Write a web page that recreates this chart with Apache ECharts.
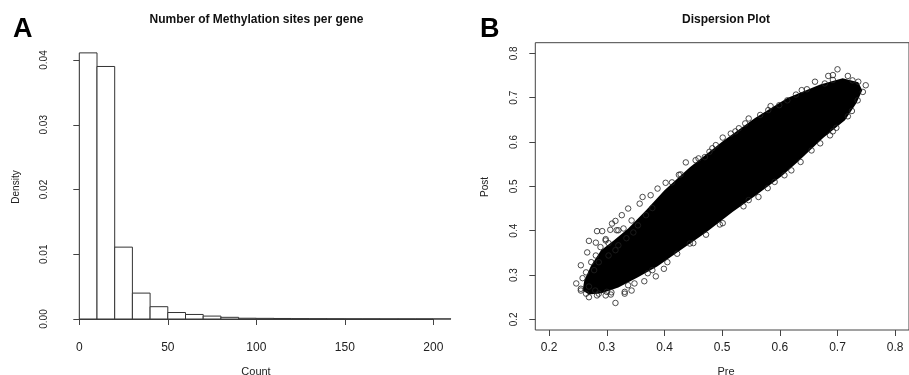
<!DOCTYPE html>
<html>
<head>
<meta charset="utf-8">
<script src="https://cdn.jsdelivr.net/npm/echarts@6/dist/echarts.min.js"></script>
<style>
  html, body { margin: 0; padding: 0; background: #fff; }
  #chart { width: 909px; height: 375px; }
</style>
</head>
<body>
<div id="chart"></div>
<script>
// Panel A: histogram of methylation sites per gene
const binLeft = [0, 10, 20, 30, 40, 50, 60, 70, 80, 90, 100, 110, 120, 130, 140, 150, 160, 170, 180, 190, 200]
const binRight = [10, 20, 30, 40, 50, 60, 70, 80, 90, 100, 110, 120, 130, 140, 150, 160, 170, 180, 190, 200, 210]
const density = [0.0411, 0.0390, 0.0111, 0.0040, 0.0019, 0.0010, 0.0007, 0.00045, 0.00026, 0.00012,
    0.0001, 0.00008, 0.00006, 0.00005, 0.00004, 0.00003, 0.00003, 0.00002, 0.00002, 0.00002, 0.00001]

// Panel B: dispersion plot (Pre vs Post)
const preTicks = [0.2, 0.3, 0.4, 0.5, 0.6, 0.7, 0.8]
const postTicks = [0.2, 0.3, 0.4, 0.5, 0.6, 0.7, 0.8]

// outline of the solid (fully overplotted) core of the cloud
const coreX = [0.258, 0.261, 0.273, 0.290, 0.312, 0.337, 0.368, 0.400, 0.444, 0.501, 0.557, 0.613, 0.670, 0.709, 0.736,
    0.743, 0.733, 0.713, 0.675, 0.630, 0.603, 0.557, 0.518, 0.472, 0.422, 0.388, 0.354, 0.320, 0.291, 0.269]
const coreY = [0.265, 0.288, 0.322, 0.356, 0.378, 0.405, 0.446, 0.491, 0.543, 0.602, 0.654, 0.699, 0.730, 0.744, 0.735,
    0.717, 0.688, 0.649, 0.609, 0.554, 0.523, 0.478, 0.442, 0.396, 0.351, 0.320, 0.295, 0.272, 0.259, 0.256]

// individual points visible around the core
const edgePoints = [
    [0.700, 0.764], [0.692, 0.751], [0.684, 0.749], [0.726, 0.739], [0.736, 0.736], [0.749, 0.728],
    [0.744, 0.713], [0.735, 0.694], [0.725, 0.670], [0.698, 0.632], [0.687, 0.615], [0.670, 0.597],
    [0.636, 0.555], [0.608, 0.525], [0.591, 0.510], [0.563, 0.476], [0.546, 0.469], [0.501, 0.417],
    [0.472, 0.391], [0.444, 0.371], [0.422, 0.348], [0.399, 0.314], [0.385, 0.297], [0.365, 0.286],
    [0.343, 0.265], [0.331, 0.258], [0.315, 0.237], [0.298, 0.254], [0.286, 0.258], [0.269, 0.250],
    [0.264, 0.258], [0.255, 0.265], [0.247, 0.281], [0.255, 0.322], [0.266, 0.351], [0.269, 0.377],
    [0.281, 0.373], [0.283, 0.399], [0.292, 0.399], [0.298, 0.381], [0.306, 0.402], [0.315, 0.422],
    [0.320, 0.401], [0.326, 0.435], [0.337, 0.450], [0.343, 0.423], [0.357, 0.461], [0.362, 0.476],
    [0.376, 0.480], [0.388, 0.495], [0.402, 0.508], [0.437, 0.554], [0.425, 0.526], [0.454, 0.559],
    [0.470, 0.566], [0.478, 0.578], [0.489, 0.593], [0.501, 0.610], [0.515, 0.619], [0.529, 0.631],
    [0.546, 0.653], [0.566, 0.661], [0.580, 0.672], [0.599, 0.683], [0.613, 0.694], [0.628, 0.707],
    [0.647, 0.719], [0.661, 0.736], [0.678, 0.732],
    [0.309, 0.416], [0.255, 0.269], [0.283, 0.254], [0.300, 0.262], [0.331, 0.262], [0.348, 0.281],
    [0.379, 0.311], [0.281, 0.344], [0.289, 0.363], [0.298, 0.378], [0.317, 0.401],
    [0.278, 0.311], [0.286, 0.329], [0.303, 0.344], [0.320, 0.367], [0.334, 0.383], [0.346, 0.396],
    [0.354, 0.412], [0.368, 0.435], [0.379, 0.451], [0.315, 0.356], [0.258, 0.293], [0.269, 0.274],
    [0.280, 0.265], [0.307, 0.256], [0.264, 0.306], [0.329, 0.405], [0.303, 0.372], [0.273, 0.329],
    [0.413, 0.509], [0.428, 0.527], [0.459, 0.563], [0.483, 0.586], [0.523, 0.624], [0.540, 0.642],
    [0.584, 0.681], [0.638, 0.717], [0.692, 0.740], [0.718, 0.749],
    [0.718, 0.658], [0.692, 0.624], [0.655, 0.581], [0.620, 0.536], [0.579, 0.496], [0.537, 0.455],
    [0.496, 0.414], [0.450, 0.372], [0.405, 0.329], [0.371, 0.304], [0.337, 0.277], [0.308, 0.261]
]

const font = "'Liberation Sans', Arial, Helvetica, sans-serif"
const ink = '#222'
const axisGray = '#444'

const chart = echarts.init(document.getElementById('chart'))

const option = {
    animation: false,
    backgroundColor: '#fff',
    grid: [
        { left: 79.3, top: 60, width: 354, height: 259 },
        { left: 535.3, top: 42.7, width: 382.5, height: 287.3, show: true, borderColor: axisGray, borderWidth: 1 },
    ],
    xAxis: [
        {
            gridIndex: 0,
            type: 'value',
            min: 0,
            max: 200,
            interval: 50,
            offset: 11,
            axisLine: { show: true, lineStyle: { color: axisGray, width: 1 } },
            axisTick: { show: true, length: 6, lineStyle: { color: axisGray } },
            axisLabel: { color: ink, fontFamily: font, fontSize: 12, margin: 12 },
            splitLine: { show: false },
        },
        {
            gridIndex: 1,
            type: 'value',
            min: 0.176,
            max: 0.824,
            axisLine: { show: false },
            axisTick: { show: true, length: 6, customValues: preTicks, lineStyle: { color: axisGray } },
            axisLabel: {
                color: ink, fontFamily: font, fontSize: 12, margin: 12,
                customValues: preTicks,
                formatter: (v) => v.toFixed(1),
            },
            splitLine: { show: false },
        },
    ],
    yAxis: [
        {
            gridIndex: 0,
            type: 'value',
            min: 0,
            max: 0.04,
            interval: 0.01,
            offset: 14,
            axisLine: { show: true, lineStyle: { color: axisGray, width: 1 } },
            axisTick: { show: true, length: 6, lineStyle: { color: axisGray } },
            axisLabel: {
                color: ink, fontFamily: font, fontSize: 10, rotate: 90, margin: 16,
                formatter: (v) => v.toFixed(2),
            },
            splitLine: { show: false },
        },
        {
            gridIndex: 1,
            type: 'value',
            min: 0.176,
            max: 0.824,
            axisLine: { show: false },
            axisTick: { show: true, length: 6, customValues: postTicks, lineStyle: { color: axisGray } },
            axisLabel: {
                color: ink, fontFamily: font, fontSize: 10, rotate: 90, margin: 16,
                customValues: postTicks,
                formatter: (v) => v.toFixed(1),
            },
            splitLine: { show: false },
        },
    ],
    series: [
        {
            type: 'custom',
            xAxisIndex: 0,
            yAxisIndex: 0,
            clip: false,
            data: binLeft.map((l, i) => [l, binRight[i], density[i]]),
            renderItem: (params, api) => {
                const p0 = api.coord([api.value(0), 0])
                const p1 = api.coord([api.value(1), api.value(2)])
                return {
                    type: 'rect',
                    shape: { x: p0[0], y: p1[1], width: p1[0] - p0[0], height: p0[1] - p1[1] },
                    style: { fill: '#fff', stroke: '#333', lineWidth: 1 },
                }
            },
        },
        {
            type: 'custom',
            xAxisIndex: 1,
            yAxisIndex: 1,
            data: [[coreX[0], coreY[0]]],
            renderItem: (params, api) => {
                const points = coreX.map((x, i) => api.coord([x, coreY[i]]))
                return { type: 'polygon', shape: { points }, style: { fill: '#000' } }
            },
        },
        {
            type: 'scatter',
            xAxisIndex: 1,
            yAxisIndex: 1,
            data: edgePoints,
            symbol: 'circle',
            symbolSize: 5.5,
            itemStyle: { color: 'rgba(0,0,0,0)', borderColor: '#222', borderWidth: 1 },
            emphasis: { disabled: true },
        },
    ],
    graphic: [
        { type: 'text', x: 13, y: 30, style: { text: 'A', font: `bold 27px ${font}`, fill: '#000', textVerticalAlign: 'middle' } },
        { type: 'text', x: 480, y: 30, style: { text: 'B', font: `bold 27px ${font}`, fill: '#000', textVerticalAlign: 'middle' } },
        { type: 'text', x: 256.5, y: 19.5, style: { text: 'Number of Methylation sites per gene', font: `bold 12px ${font}`, fill: '#111', textAlign: 'center', textVerticalAlign: 'middle' } },
        { type: 'text', x: 726, y: 19.5, style: { text: 'Dispersion Plot', font: `bold 12px ${font}`, fill: '#111', textAlign: 'center', textVerticalAlign: 'middle' } },
        { type: 'text', x: 256, y: 372, style: { text: 'Count', font: `11px ${font}`, fill: ink, textAlign: 'center', textVerticalAlign: 'middle' } },
        { type: 'text', x: 726, y: 372, style: { text: 'Pre', font: `11px ${font}`, fill: ink, textAlign: 'center', textVerticalAlign: 'middle' } },
        { type: 'text', x: 16.7, y: 187, rotation: Math.PI / 2, style: { text: 'Density', font: `10px ${font}`, fill: ink, textAlign: 'center', textVerticalAlign: 'middle' } },
        { type: 'text', x: 485, y: 187, rotation: Math.PI / 2, style: { text: 'Post', font: `10px ${font}`, fill: ink, textAlign: 'center', textVerticalAlign: 'middle' } },
    ],
}

chart.setOption(option)
</script>
</body>
</html>
